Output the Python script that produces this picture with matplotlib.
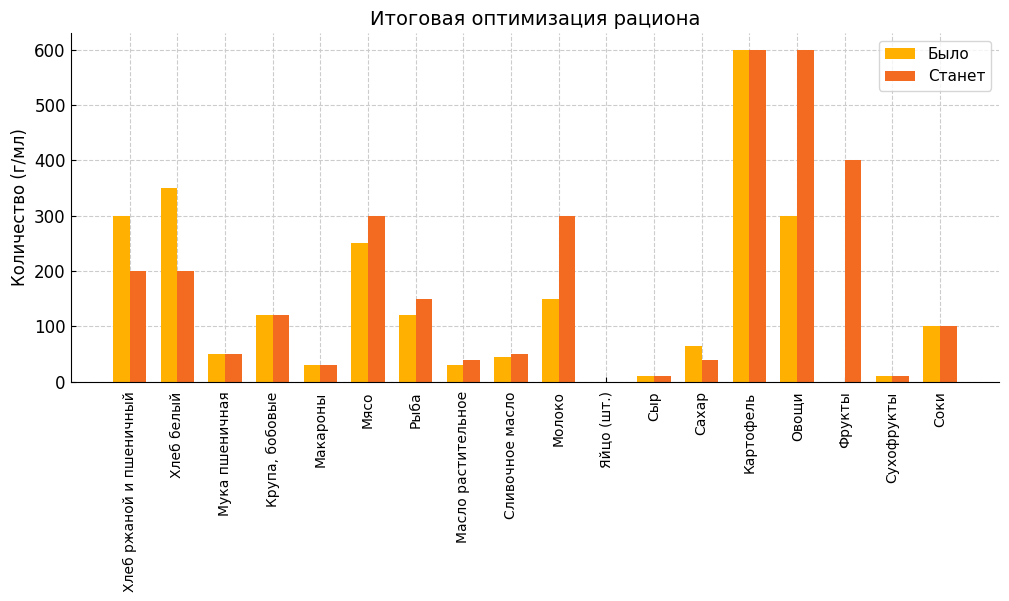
import numpy as np
import matplotlib
matplotlib.use("Agg")
import matplotlib.pyplot as plt

categories = ["Хлеб ржаной и пшеничный", "Хлеб белый", "Мука пшеничная",
              "Крупа, бобовые", "Макароны", "Мясо", "Рыба",
              "Масло растительное", "Сливочное масло", "Молоко",
              "Яйцо (шт.)", "Сыр", "Сахар", "Картофель", "Овощи",
              "Фрукты", "Сухофрукты", "Соки"]
before = [300, 350, 50, 120, 30, 250, 120, 30, 45, 150, 0, 10, 65, 600, 300, 0, 10, 100]
after = [200, 200, 50, 120, 30, 300, 150, 40, 50, 300, 0, 10, 40, 600, 600, 400, 10, 100]

fig, ax = plt.subplots(figsize=(10.09, 6.01), dpi=100)
x = np.arange(len(categories))
w = 0.35
ax.bar(x - w / 2, before, w, label="Было", color="#FFB000")
ax.bar(x + w / 2, after, w, label="Станет", color="#F26B21")

ax.set_title("Итоговая оптимизация рациона", fontsize=14)
ax.set_ylabel("Количество (г/мл)", fontsize=12)
ax.set_xticks(x)
ax.set_xticklabels(categories, rotation=90, fontsize=10)
ax.tick_params(axis="y", labelsize=12)
ax.tick_params(direction="in")
ax.tick_params(axis="x", pad=7)
ax.grid(True, linestyle="--", color="#cccccc", linewidth=0.8)
ax.set_axisbelow(True)
ax.spines["top"].set_visible(False)
ax.spines["right"].set_visible(False)
ax.legend(loc="upper right", fontsize=11)

fig.subplots_adjust(left=0.07, right=0.99, top=0.945, bottom=0.365)
fig.savefig("out.png", dpi=100)
